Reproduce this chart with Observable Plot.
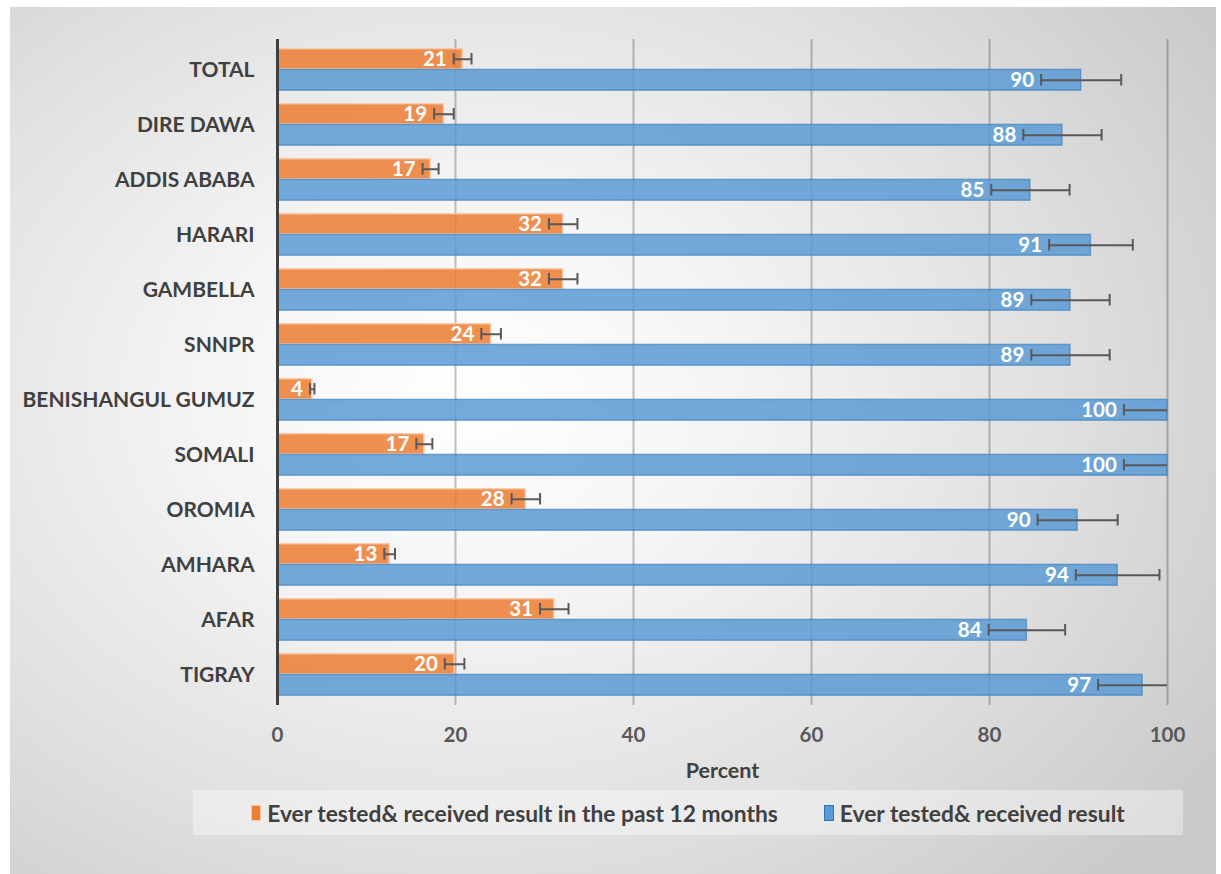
<!DOCTYPE html>
<html>
<head>
<meta charset="utf-8">
<script src="https://cdn.jsdelivr.net/npm/d3@7"></script>
<script src="https://cdn.jsdelivr.net/npm/@observablehq/plot@0.6"></script>
<style>
  html, body { margin: 0; padding: 0; background: #ffffff; }
  #panel {
    position: absolute; left: 10px; top: 7px; width: 1206px; height: 867px;
    background: radial-gradient(ellipse 75% 80% at 38% 45%, #ffffff 0%, #f4f4f4 30%, #e0e0e0 65%, #c9c9c9 100%);
    font-family: Lato, "Open Sans", sans-serif;
  }
  #chart { position: absolute; left: 0; top: 0; }
  #legend {
    position: absolute; left: 183px; top: 783px; width: 990px; height: 45px;
    background: rgba(255,255,255,0.38);
    display: flex; align-items: center; justify-content: center; gap: 46px;
    font-family: Lato, sans-serif; font-weight: bold; font-size: 22.8px; color: #404040;
  }
  .item { display: flex; align-items: center; gap: 6px; }
  .sw { display: inline-block; width: 8px; height: 14px; }
</style>
</head>
<body>
<div id="panel">
  <div id="chart"></div>
  <div id="legend"></div>
</div>
<script>
const categories = ["TOTAL","DIRE DAWA","ADDIS ABABA","HARARI","GAMBELLA","SNNPR","BENISHANGUL GUMUZ","SOMALI","OROMIA","AMHARA","AFAR","TIGRAY"];
const seriesNames = ["Ever tested& received result in the past 12 months", "Ever tested& received result"];
const recentValues = [20.8, 18.7, 17.2, 32.1, 32.1, 24.0, 3.9, 16.5, 27.9, 12.6, 31.1, 19.9];
const recentErrors = [1.0, 1.1, 0.9, 1.6, 1.6, 1.1, 0.25, 0.9, 1.6, 0.6, 1.6, 1.1];
const everValues = [90.3, 88.2, 84.6, 91.4, 89.1, 89.1, 100, 100, 89.9, 94.4, 84.2, 97.2];
const everErrors = [4.5, 4.4, 4.4, 4.7, 4.4, 4.4, 4.9, 4.9, 4.5, 4.7, 4.3, 5.0];
const xTicks = [0, 20, 40, 60, 80, 100];
const seriesColors = ["#ED7D31", "#5B9BD5"];

const recent = categories.map((c, i) => ({cat: c, v: recentValues[i], lo: recentValues[i] - recentErrors[i], hi: recentValues[i] + recentErrors[i]}));
const ever = categories.map((c, i) => ({cat: c, v: everValues[i], lo: everValues[i] - everErrors[i], hi: everValues[i] + everErrors[i]}));

const font = "Lato, 'Open Sans', sans-serif";
const errColor = "#595959";

function seriesMarks(data, color, stroke, strokeOpacity, barTop, barBottom, capTop, capBottom, dy) {
  return [
    Plot.barX(data, {y: "cat", x: "v", fill: color, fillOpacity: 0.85, stroke, strokeOpacity, strokeWidth: 1.5, insetTop: barTop, insetBottom: barBottom}),
    Plot.ruleY(data, {y: "cat", x1: "lo", x2: "hi", dy, stroke: errColor, strokeWidth: 2, clip: true}),
    Plot.tickX(data, {y: "cat", x: "lo", insetTop: capTop, insetBottom: capBottom, stroke: errColor, strokeWidth: 2, clip: true}),
    Plot.tickX(data, {y: "cat", x: "hi", insetTop: capTop, insetBottom: capBottom, stroke: errColor, strokeWidth: 2, clip: true}),
    Plot.text(data, {y: "cat", x: "lo", text: d => String(Math.round(d.v)), dx: -7, dy, textAnchor: "end", fill: "#ffffff", fontWeight: "bold", fontSize: 20.5})
  ];
}

const chart = Plot.plot({
  width: 1206,
  height: 783,
  marginLeft: 267,
  marginRight: 49,
  marginTop: 32,
  marginBottom: 85,
  style: {background: "transparent", fontFamily: font, fontSize: "20px", overflow: "visible"},
  x: {domain: [0, 100], ticks: xTicks},
  y: {domain: categories, padding: 0},
  marks: [
    Plot.ruleX(xTicks.filter(t => t > 0), {stroke: "#000", strokeOpacity: 0.24, strokeWidth: 2}),
    ...seriesMarks(recent, seriesColors[0], "#F8CBAD", 0.9, 6.7, 28.1, 11, 32.5, -10.75),
    ...seriesMarks(ever, seriesColors[1], "#2E75B6", 0.55, 27.4, 6.8, 32, 11.5, 10.25),
    Plot.ruleX([0], {stroke: "#404040", strokeWidth: 3}),
    Plot.axisX({ticks: xTicks, tickSize: 0, tickPadding: 22, fill: "#595959", fontWeight: "bold", fontSize: 20.5, label: null}),
    Plot.axisY({tickSize: 0, tickPadding: 23, fill: "#404040", fontWeight: "bold", fontSize: 21, label: null}),
    Plot.text(["Percent"], {frameAnchor: "bottom", dy: 72, fill: "#404040", fontWeight: "bold", fontSize: 21.5})
  ]
});
document.getElementById("chart").appendChild(chart);

const legend = document.getElementById("legend");
seriesNames.forEach((name, i) => {
  const item = document.createElement("div");
  item.className = "item";
  const sw = document.createElement("span");
  sw.className = "sw";
  sw.style.background = seriesColors[i];
  sw.style.border = "1px solid " + (i === 0 ? "#F8CBAD" : "#2E75B6");
  const label = document.createElement("span");
  label.textContent = name;
  item.appendChild(sw);
  item.appendChild(label);
  legend.appendChild(item);
});
</script>
</body>
</html>
